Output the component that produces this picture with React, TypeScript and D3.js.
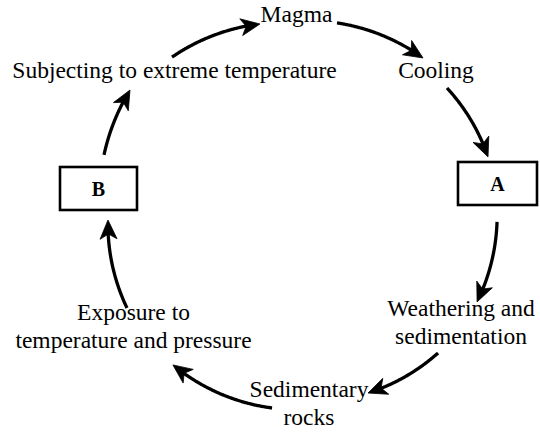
import React from "react";
import * as d3 from "d3";

// ---- content ----
const stageLabels: string[][] = [
  ["Magma"],
  ["Cooling"],
  ["Subjecting to extreme temperature"],
  ["Weathering and", "sedimentation"],
  ["Sedimentary", "rocks"],
  ["Exposure to", "temperature and pressure"],
];
const boxLabels: string[] = ["A", "B"];

// ---- layout (separate from content) ----
const W = 540;
const H = 432;
const cycleCenter: [number, number] = [300, 214];
// text anchor centre x, first baseline y
const stageX = [296.5, 436, 174.5, 461, 309, 133.5];
const stageY = [22, 78, 78, 316, 397, 320];
const lineGap = 27.5;
// boxes: x, y, w, h
const boxX = [458, 60];
const boxY = [162, 167];
const boxW = [79, 77];
const boxH = [43, 43];
// arrows on the cycle: start angle, end angle (deg), start radius, end radius
const arrowA0 = [-39.2, 10.96, 49.4, 92.3, 135.2, 188.2, 241.5, 286.8];
const arrowA1 = [-11.9, 38.25, 73.1, 116.4, 159.2, 220.1, 268.2, 306.1];
const arrowR0 = [202.5, 194.6, 193.6, 197.2, 195.9, 196, 196.9, 204.7];
const arrowR1 = [194.2, 198.7, 196.5, 197.7, 191.5, 197.3, 192.1, 210.4];

const FONT = "Liberation Serif";
const FONT_SIZE = 23.5;
const HEAD_L = 19;
const HEAD_W = 8.5;
const HEAD_N = 14;
const INK = "#000";

function arrowGeometry(i: number) {
  const t = d3.scaleLinear().domain([0, 1]);
  const ang = t.copy().range([arrowA0[i], arrowA1[i]]);
  const rad = t.copy().range([arrowR0[i], arrowR1[i]]);
  const pts: [number, number][] = d3.range(0, 1.0001, 1 / 60).map((s) => {
    const p = d3.pointRadial((ang(s) * Math.PI) / 180, rad(s));
    return [cycleCenter[0] + p[0], cycleCenter[1] + p[1]] as [number, number];
  });
  const tip = pts[pts.length - 1];
  const dist = (p: [number, number]) => Math.hypot(p[0] - tip[0], p[1] - tip[1]);
  let back = pts[0];
  for (let k = pts.length - 1; k >= 0; k--) {
    if (dist(pts[k]) >= HEAD_L) {
      back = pts[k];
      break;
    }
  }
  const dx = tip[0] - back[0];
  const dy = tip[1] - back[1];
  const len = Math.hypot(dx, dy) || 1;
  const ux = dx / len;
  const uy = dy / len;
  const px = -uy;
  const py = ux;
  const linePts = pts.filter((p) => dist(p) >= HEAD_N - 3);
  const head: [number, number][] = [
    tip,
    [tip[0] - ux * HEAD_L + px * HEAD_W, tip[1] - uy * HEAD_L + py * HEAD_W],
    [tip[0] - ux * HEAD_N, tip[1] - uy * HEAD_N],
    [tip[0] - ux * HEAD_L - px * HEAD_W, tip[1] - uy * HEAD_L - py * HEAD_W],
  ];
  const line = d3.line().curve(d3.curveBasis);
  return { d: line(linePts) || "", head: "M" + head.map((p) => p.join(",")).join("L") + "Z" };
}

export default function App() {
  const arrows = arrowA0.map((_, i) => arrowGeometry(i));
  return (
    <svg
      width={W}
      height={H}
      viewBox={`0 0 ${W} ${H}`}
      style={{ position: "absolute", left: 0, top: 0, background: "#fff" }}
    >
      <rect x={0} y={0} width={W} height={H} fill="#fff" />
      {arrows.map((a, i) => (
        <g key={i}>
          <path d={a.d} fill="none" stroke={INK} strokeWidth={3.3} />
          <path d={a.head} fill={INK} stroke={INK} strokeWidth={0.8} strokeLinejoin="miter" />
        </g>
      ))}
      {stageLabels.map((lines, i) => (
        <text
          key={i}
          x={stageX[i]}
          y={stageY[i]}
          textAnchor="middle"
          style={{ fontFamily: FONT, fontSize: FONT_SIZE }}
          fill={INK}
        >
          {lines.map((l, j) => (
            <tspan key={j} x={stageX[i]} dy={j === 0 ? 0 : lineGap}>
              {l}
            </tspan>
          ))}
        </text>
      ))}
      {boxLabels.map((b, i) => (
        <g key={b}>
          <rect
            x={boxX[i]}
            y={boxY[i]}
            width={boxW[i]}
            height={boxH[i]}
            fill="#fff"
            stroke={INK}
            strokeWidth={2.6}
          />
          <text
            x={boxX[i] + boxW[i] / 2}
            y={boxY[i] + boxH[i] / 2 + 7}
            textAnchor="middle"
            style={{ fontFamily: FONT, fontSize: 20, fontWeight: "bold" }}
            fill={INK}
          >
            {b}
          </text>
        </g>
      ))}
    </svg>
  );
}
